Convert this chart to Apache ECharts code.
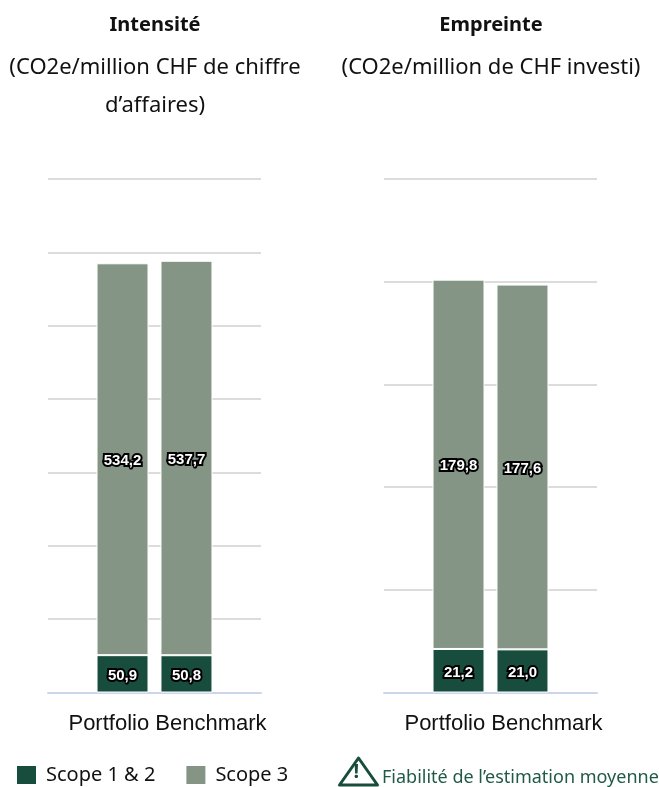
<!DOCTYPE html>
<html>
<head>
<meta charset="utf-8">
<title>Intensité et empreinte</title>
<style>
  html, body { margin: 0; padding: 0; background: #fff; }
  #chart { width: 659px; height: 787px; }
</style>
<script src="https://cdn.jsdelivr.net/npm/echarts@6/dist/echarts.min.js"></script>
</head>
<body>
<div id="chart"></div>
<script>
// data
var barNames = ['Portfolio', 'Benchmark'];
var intensiteScope12 = [50.9, 50.8];
var intensiteScope3 = [534.2, 537.7];
var empreinteScope12 = [21.2, 21.0];
var empreinteScope3 = [179.8, 177.6];
var scopeNames = ['Scope 1 & 2', 'Scope 3'];
var scopeColors = ['#184d3d', '#859585'];

var titleFont = '"Noto Sans", sans-serif';
var chart = echarts.init(document.getElementById('chart'));

// one stacked bar: value label in white with the black outline
function stackPart(name, color, value, stack, axisIndex) {
    return {
        name: name,
        type: 'bar',
        stack: stack,
        xAxisIndex: axisIndex,
        yAxisIndex: axisIndex,
        barWidth: 52,
        barGap: '23%',
        data: [value],
        itemStyle: { color: color, borderColor: '#fff', borderWidth: 1 },
        label: {
            show: true,
            position: 'inside',
            offset: [0, 2],
            formatter: function(p) { return p.value.toFixed(1).replace('.', ','); },
            color: '#fff',
            fontFamily: 'Liberation Sans',
            fontWeight: 'bold',
            fontSize: 15,
            textBorderColor: '#000',
            textBorderWidth: 4
        }
    };
}

var series = [];
barNames.forEach(function(bar, i) {
    series.push(stackPart(scopeNames[0], scopeColors[0], intensiteScope12[i], 'int' + bar, 0));
    series.push(stackPart(scopeNames[1], scopeColors[1], intensiteScope3[i], 'int' + bar, 0));
});
barNames.forEach(function(bar, i) {
    series.push(stackPart(scopeNames[0], scopeColors[0], empreinteScope12[i], 'emp' + bar, 1));
    series.push(stackPart(scopeNames[1], scopeColors[1], empreinteScope3[i], 'emp' + bar, 1));
});

function xAxis(gridIndex) {
    return {
        type: 'category',
        gridIndex: gridIndex,
        data: [barNames.join(' ')],
        axisTick: { show: false },
        axisLine: { lineStyle: { color: '#ccd6eb', width: 2 } },
        axisLabel: {
            color: '#111',
            fontFamily: 'Liberation Sans',
            fontSize: 22,
            margin: 20,
            padding: [0, 0, 0, 26]
        }
    };
}

function yAxis(gridIndex, max, interval) {
    return {
        type: 'value',
        gridIndex: gridIndex,
        min: 0,
        max: max,
        interval: interval,
        axisLabel: { show: false },
        axisLine: { show: false },
        axisTick: { show: false },
        splitLine: { lineStyle: { color: '#dcdcdc', width: 2 } }
    };
}

function heading(text, left, top, bold) {
    return {
        text: text,
        left: left,
        top: top,
        padding: 0,
        textAlign: 'center',
        textStyle: {
            fontFamily: titleFont,
            fontSize: bold ? 20 : 22,
            fontWeight: bold ? 'bold' : 'normal',
            lineHeight: 38,
            color: '#111'
        }
    };
}

var option = {
    animation: false,
    backgroundColor: '#fff',
    title: [
        heading('Intensité', 155, 6, true),
        heading('(CO2e/million CHF de chiffre\nd\u2019affaires)', 155, 49, false),
        heading('Empreinte', 491, 6, true),
        heading('(CO2e/million de CHF investi)', 491, 49, false)
    ],
    legend: {
        left: 12,
        top: 760,
        padding: 5,
        itemWidth: 19,
        itemHeight: 18,
        itemGap: 31,
        itemStyle: { borderWidth: 0 },
        data: scopeNames.map(function(n) { return { name: n, icon: 'rect' }; }),
        textStyle: { fontFamily: titleFont, fontSize: 20, color: '#111', padding: [0, 0, 0, 5] }
    },
    grid: [
        { left: 48, top: 179, width: 213, bottom: 94.5 },
        { left: 384, top: 179, width: 213, bottom: 94.5 }
    ],
    xAxis: [xAxis(0), xAxis(1)],
    yAxis: [yAxis(0, 700, 100), yAxis(1, 250, 50)],
    series: series,
    graphic: [
        {
            type: 'polygon',
            shape: { points: [[358.5, 758], [339.5, 785], [377.5, 785]] },
            style: { fill: 'none', stroke: '#184d3d', lineWidth: 3, lineJoin: 'round' }
        },
        {
            type: 'text',
            left: 353.5,
            top: 762,
            style: { text: '!', fill: '#184d3d', font: 'bold 20px "Noto Sans"' }
        },
        {
            type: 'text',
            left: 382,
            top: 769,
            style: { text: 'Fiabilité de l\u2019estimation moyenne', fill: '#1f5a48', font: '18px "Noto Sans"' }
        }
    ]
};

chart.setOption(option);
</script>
</body>
</html>
